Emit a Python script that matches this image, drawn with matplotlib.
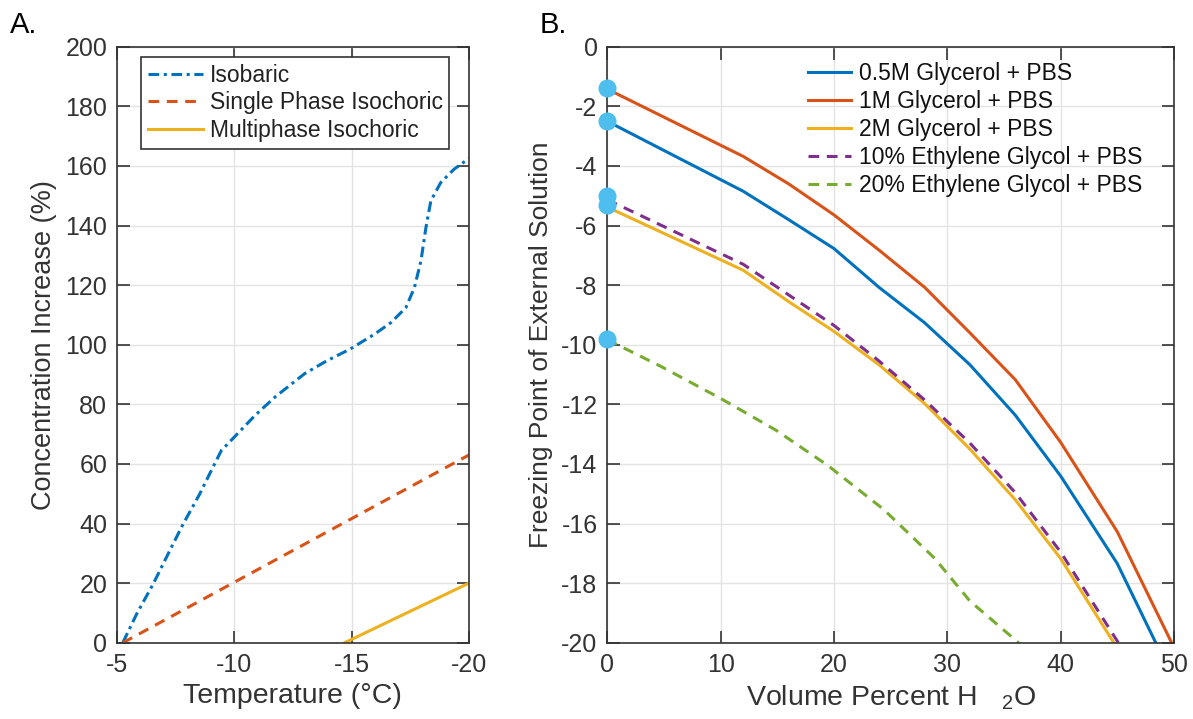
import matplotlib
matplotlib.use("Agg")
import matplotlib.pyplot as plt

# ---- panel A data ----
iso_T = [-5.25, -5.85, -6.55, -7.25, -7.82, -8.52, -9.08, -9.45, -10.0, -10.9,
         -11.76, -13.0, -13.94, -14.93, -15.99, -16.69, -17.32, -17.68, -17.96,
         -18.17, -18.38, -18.8, -19.37, -20.0]
iso_C = [0, 9.8, 19.8, 30.9, 39.8, 49.8, 58.7, 64.5, 69.0, 76.4,
         82.6, 90.3, 94.6, 98.5, 103.6, 107.5, 112.5, 119.2, 128.2,
         139.3, 148.3, 154.4, 158.9, 162.5]
single_T = [-5.25, -20.0]
single_C = [0, 63]
multi_T = [-14.7, -20.0]
multi_C = [0, 20]

# ---- panel B data ----
g05_x = [0, 12, 16, 20, 24, 28, 32, 36, 40, 45, 48.4]
g05_y = [-2.5, -4.85, -5.8, -6.77, -8.08, -9.26, -10.67, -12.36, -14.4, -17.34, -20]
g1_x = [0, 12, 16, 20, 24, 28, 32, 36, 40, 45, 49.8]
g1_y = [-1.42, -3.68, -4.6, -5.64, -6.83, -8.07, -9.6, -11.17, -13.27, -16.27, -20]
g2_x = [0, 12, 16, 20, 24, 28, 32, 36, 40, 44.7]
g2_y = [-5.38, -7.5, -8.55, -9.55, -10.68, -11.97, -13.5, -15.2, -17.17, -20]
eg10_x = [0, 12, 20, 24, 28, 32, 36, 40, 45.1]
eg10_y = [-5.13, -7.3, -9.35, -10.55, -11.85, -13.3, -14.96, -16.95, -20]
eg20_x = [0, 4.7, 10, 14.9, 19.5, 24.4, 28.9, 32, 36.3]
eg20_y = [-9.83, -10.72, -11.8, -12.87, -14.06, -15.53, -17.17, -18.6, -20]
start_y = [-1.4, -2.5, -5.0, -5.3, -9.8]

blue = '#0072BD'
orange = '#D95319'
yellow = '#EDB120'
purple = '#7E2F8E'
green = '#77AC30'
cyan = '#4DBEEE'
axcol = '#333333'

plt.rcParams['font.family'] = ['Liberation Sans', 'DejaVu Sans']
plt.rcParams['mathtext.default'] = 'regular'
plt.rcParams['axes.unicode_minus'] = False

fig = plt.figure(figsize=(11.93, 7.19), dpi=100)


def style_axes(ax):
    for s in ax.spines.values():
        s.set_color(axcol)
        s.set_linewidth(1.2)
    ax.tick_params(direction='in', length=9, width=1.2, colors=axcol,
                   labelsize=18, top=True, right=True, pad=7)
    ax.grid(True, color='#e3e3e3', linewidth=1)
    ax.set_axisbelow(True)


# panel A
ax1 = fig.add_axes([0.098, 0.106, 0.295, 0.829])
style_axes(ax1)
ax1.plot(iso_T, iso_C, color=blue, lw=2.2, dashes=(3.5, 1.5, 1, 1.5), label='Isobaric')
ax1.plot(single_T, single_C, color=orange, lw=2.2, dashes=(3.5, 2.5), label='Single Phase Isochoric')
ax1.plot(multi_T, multi_C, color=yellow, lw=2.2, label='Multiphase Isochoric')
ax1.set_xlim(-5, -20)
ax1.set_ylim(0, 200)
ax1.set_xticks([-5, -10, -15, -20])
ax1.set_yticks(range(0, 201, 20))
ax1.set_xlabel('Temperature (°C)', fontsize=20.5, color=axcol, labelpad=5)
ax1.set_ylabel('Concentration Increase (%)', fontsize=19.5, color=axcol, labelpad=6)
leg1 = ax1.legend(loc='upper left', bbox_to_anchor=(0.068, 0.983), fontsize=16.5,
                  fancybox=False, framealpha=1, edgecolor=axcol, borderaxespad=0,
                  handlelength=2.4, handletextpad=0.3, labelspacing=0.2,
                  borderpad=0.3)
leg1.get_frame().set_linewidth(1.2)
for t in leg1.get_texts():
    t.set_color('#222222')

# panel B
ax2 = fig.add_axes([0.509, 0.106, 0.475, 0.829])
style_axes(ax2)
ax2.plot(g05_x, g05_y, color=blue, lw=2.2, label='0.5M Glycerol + PBS')
ax2.plot(g1_x, g1_y, color=orange, lw=2.2, label='1M Glycerol + PBS')
ax2.plot(g2_x, g2_y, color=yellow, lw=2.2, label='2M Glycerol + PBS')
ax2.plot(eg10_x, eg10_y, color=purple, lw=2.2, dashes=(3.5, 2.5), label='10% Ethylene Glycol + PBS')
ax2.plot(eg20_x, eg20_y, color=green, lw=2.2, dashes=(3.5, 2.5), label='20% Ethylene Glycol + PBS')
ax2.plot([0] * len(start_y), start_y, 'o', color=cyan, markersize=12, clip_on=False, zorder=5)
ax2.set_xlim(0, 50)
ax2.set_ylim(-20, 0)
ax2.set_xticks(range(0, 51, 10))
ax2.set_yticks(range(-20, 1, 2))
ax2.set_xlabel('Volume Percent H   $_2$O', fontsize=20.5, color=axcol, labelpad=5)
ax2.set_ylabel('Freezing Point of External Solution', fontsize=19, color=axcol, labelpad=6)
leg2 = ax2.legend(loc='upper left', bbox_to_anchor=(0.355, 0.975), fontsize=16.5,
                  frameon=False, borderaxespad=0, borderpad=0, handlelength=1.85,
                  handletextpad=0.35, labelspacing=0.22)
for t in leg2.get_texts():
    t.set_color('#111111')

fig.text(0.008, 0.965, 'A.', fontsize=21, va='center', ha='left')
fig.text(0.452, 0.965, 'B.', fontsize=21, va='center', ha='left')

fig.savefig('out.png', dpi=100)
